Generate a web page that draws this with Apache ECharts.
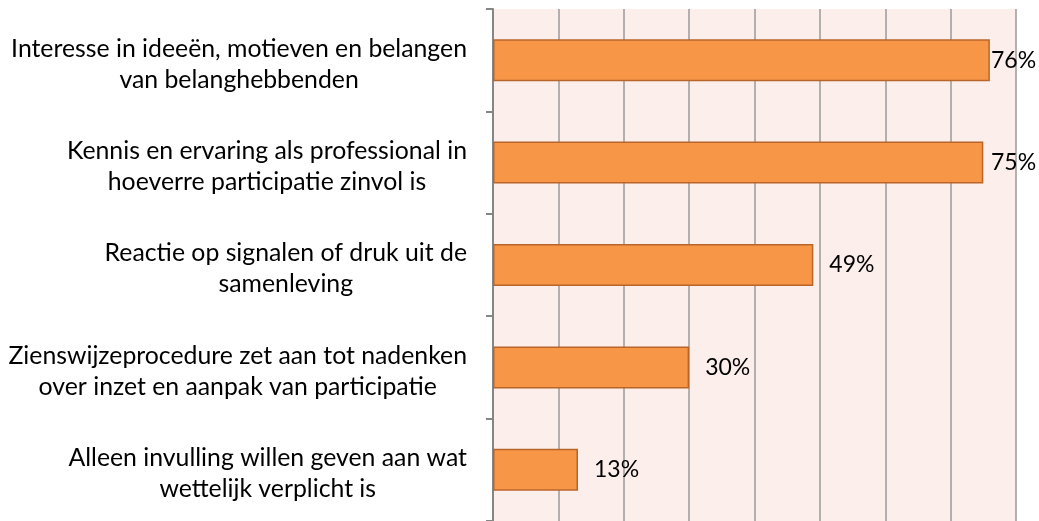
<!DOCTYPE html>
<html>
<head>
    <meta charset="utf-8" />
    <title></title>
    <script src="https://cdn.jsdelivr.net/npm/echarts@6/dist/echarts.min.js"></script>
    <style>
        html, body { margin: 0; padding: 0; background: #fff; }
    </style>
</head>
<body>
<div id="main" style="width: 1039px; height: 521px"></div>
    <script type="text/javascript">
        // categories from top to bottom
        var categories = [
            'Interesse in ideeën, motieven en belangen\nvan belanghebbenden',
            'Kennis en ervaring als professional in\nhoeverre participatie zinvol is',
            'Reactie op signalen of druk uit de\nsamenleving',
            'Zienswijzeprocedure zet aan tot nadenken\nover inzet en aanpak van participatie',
            'Alleen invulling willen geven aan wat\nwettelijk verplicht is'
        ];
        var values = [76, 75, 49, 30, 13];

        var gridLeft = 493, gridWidth = 523, xMax = 80;
        var labelRight = 1036, labelW = 45;

        // excel pushes labels of long bars back inside the chart
        var data = values.map(function (v) {
            var barEnd = gridLeft + v / xMax * gridWidth;
            var dist = Math.min(16, labelRight - labelW - barEnd);
            return { value: v, label: { distance: dist } };
        });

        var myChart = echarts.init(document.getElementById('main'));
        myChart.setOption({
            animation: false,
            grid: {
                left: gridLeft,
                width: gridWidth,
                top: 9,
                height: 514,
                show: true,
                backgroundColor: '#FCEEEA',
                borderWidth: 0
            },
            xAxis: {
                type: 'value',
                min: 0,
                max: xMax,
                interval: 10,
                axisLine: { show: false },
                axisTick: { show: false },
                axisLabel: { show: false },
                splitLine: {
                    show: true,
                    lineStyle: { color: '#9A9A9A', width: 1.5 }
                }
            },
            yAxis: {
                type: 'category',
                inverse: true,
                data: categories,
                axisLine: { show: true, lineStyle: { color: '#868686', width: 2 } },
                axisTick: { show: true, length: 7, lineStyle: { color: '#868686', width: 2 } },
                axisLabel: {
                    margin: 26,
                    align: 'right',
                    formatter: function (val) {
                        return val.split('\n').map(function (s) { return '{c|' + s + '}'; }).join('\n');
                    },
                    rich: {
                        c: {
                            align: 'center',
                            fontFamily: 'Lato',
                            fontSize: 24.8,
                            lineHeight: 31,
                            padding: [8, 0, 0, 0],
                            color: '#000'
                        }
                    }
                }
            },
            series: [
                {
                    name: 'aandeel',
                    type: 'bar',
                    data: data,
                    barWidth: 42,
                    itemStyle: {
                        color: '#F79646',
                        borderColor: '#B9652A',
                        borderWidth: 1.5
                    },
                    label: {
                        show: true,
                        position: 'right',
                        formatter: '{c}%',
                        fontFamily: 'Lato',
                        fontSize: 23,
                        color: '#000'
                    }
                }
            ]
        });
    </script>
</body>
</html>
